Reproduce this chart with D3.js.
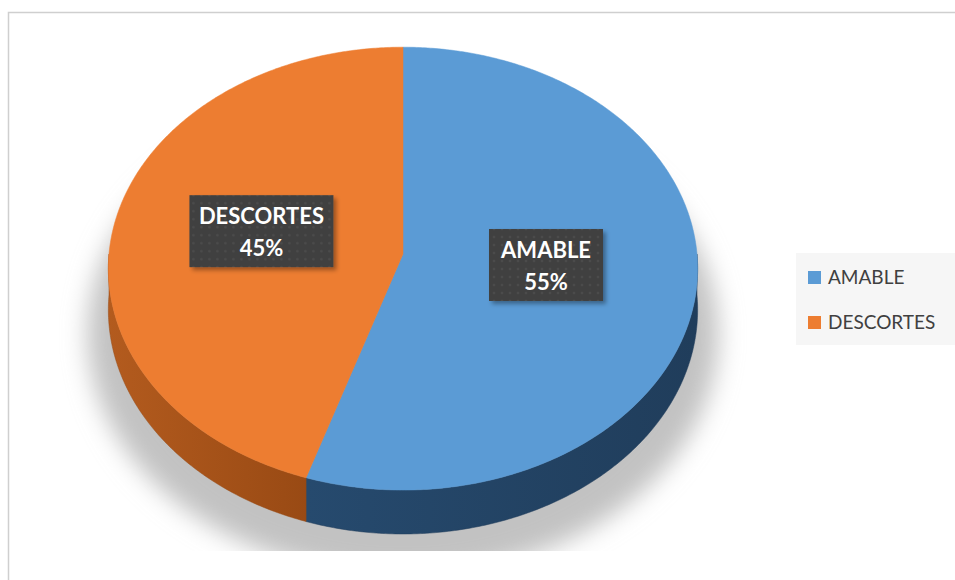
<!DOCTYPE html>
<html>
<head>
<meta charset="utf-8">
<script src="https://cdn.jsdelivr.net/npm/d3@7"></script>
<style>
  html, body { margin: 0; padding: 0; background: #fff; }
  svg { display: block; font-family: Lato, "Open Sans", sans-serif; }
</style>
</head>
<body>
<svg id="chart" width="955" height="580"></svg>
<script>
// data
var categories = ["AMABLE", "DESCORTES"];
var values = [55, 45];
var topColors = ["#5B9BD5", "#ED7D31"];
var sideColors = [["#264A6E", "#203D5B"], ["#B35B1E", "#994A14"]];

var svg = d3.select("#chart");
var W = 955, H = 580;

// 3D projection of the tilted disk
var cx = 403, cy = 254, s = 294, A = 220.5, D = 10, c = 0.661, thick = 41;
function proj(theta, r, h) {
  var X = Math.sin(theta) * r, Z = Math.cos(theta) * r;
  var p = D / (D + Z * c);
  return [cx + s * X * p, cy - A * Z * p + h * p];
}

var pie = d3.pie().sort(null).value(function(d) { return d; });
var arcs = pie(values);

var defs = svg.append("defs");
var blur = defs.append("filter").attr("id", "blur")
  .attr("x", "-20%").attr("y", "-20%").attr("width", "140%").attr("height", "140%");
blur.append("feGaussianBlur").attr("stdDeviation", 12);
defs.append("clipPath").attr("id", "shadowClip")
  .append("rect").attr("x", 0).attr("y", 0).attr("width", W).attr("height", 551);

var ds = defs.append("filter").attr("id", "boxShadow")
  .attr("x", "-10%").attr("y", "-10%").attr("width", "130%").attr("height", "140%");
ds.append("feDropShadow").attr("dx", 3).attr("dy", 3).attr("stdDeviation", 2)
  .attr("flood-color", "#000").attr("flood-opacity", 0.35);

var pat = defs.append("pattern").attr("id", "dots")
  .attr("patternUnits", "userSpaceOnUse").attr("width", 8).attr("height", 8);
pat.append("rect").attr("width", 8).attr("height", 8).attr("fill", "#404040");
pat.append("circle").attr("cx", 4).attr("cy", 4).attr("r", 1.3).attr("fill", "#4c4c4c");

sideColors.forEach(function(sc, i) {
  var g = defs.append("linearGradient").attr("id", "side" + i)
    .attr("x1", "0%").attr("x2", "100%").attr("y1", "0%").attr("y2", "0%");
  g.append("stop").attr("offset", "0%").attr("stop-color", sc[0]);
  g.append("stop").attr("offset", "100%").attr("stop-color", sc[1]);
});

// chart frame
svg.append("rect")
  .attr("x", 8.5).attr("y", 12.5).attr("width", W + 20).attr("height", H + 20)
  .attr("fill", "#fff").attr("stroke", "#cfcfcf").attr("stroke-width", 1.5);

var line = d3.line();
function sample(a0, a1, r, h) {
  var n = Math.max(2, Math.ceil(Math.abs(a1 - a0) / 0.01));
  return d3.range(n + 1).map(function(k) { return proj(a0 + (a1 - a0) * k / n, r, h); });
}

// soft shadow under the pie
var shadowPts = sample(0, 2 * Math.PI, 1.07, thick + 22);
svg.append("g").attr("clip-path", "url(#shadowClip)")
  .append("path")
  .attr("d", line(shadowPts) + "Z")
  .attr("fill", "#c2c2c2")
  .attr("filter", "url(#blur)");

// side walls (visible front half only)
var front0 = Math.PI / 2, front1 = 3 * Math.PI / 2;
arcs.forEach(function(a, i) {
  var a0 = Math.max(a.startAngle, front0), a1 = Math.min(a.endAngle, front1);
  if (a1 <= a0) return;
  var pts = sample(a0, a1, 1, 0).concat(sample(a1, a0, 1, thick));
  svg.append("path")
    .attr("d", line(pts) + "Z")
    .attr("fill", "url(#side" + i + ")")
    .attr("stroke", sideColors[i][1]).attr("stroke-width", 0.5);
});

// top faces
arcs.forEach(function(a, i) {
  var pts = [proj(0, 0, 0)].concat(sample(a.startAngle, a.endAngle, 1, 0));
  svg.append("path")
    .attr("d", line(pts) + "Z")
    .attr("fill", topColors[i])
    .attr("stroke", topColors[i]).attr("stroke-width", 0.5);
});

// data labels
var fmt = d3.format(".0%");
var total = d3.sum(values);
var boxW = [114, 144];
arcs.forEach(function(a, i) {
  var mid = (a.startAngle + a.endAngle) / 2;
  var p = proj(mid, 0.49, 0);
  var bx = p[0], by = p[1] - 6;
  var g = svg.append("g").attr("transform", "translate(" + bx + "," + by + ")");
  g.append("rect")
    .attr("x", -boxW[i] / 2).attr("y", -36).attr("width", boxW[i]).attr("height", 72)
    .attr("fill", "url(#dots)").attr("filter", "url(#boxShadow)");
  g.append("text").attr("text-anchor", "middle").attr("y", -7)
    .attr("fill", "#fff").attr("font-weight", 700).attr("font-size", 22)
    .text(categories[i]);
  g.append("text").attr("text-anchor", "middle").attr("y", 25)
    .attr("fill", "#fff").attr("font-weight", 700).attr("font-size", 22)
    .text(fmt(values[i] / total));
});

// legend
var legend = svg.append("g");
legend.append("rect")
  .attr("x", 796).attr("y", 253).attr("width", 170).attr("height", 92)
  .attr("fill", "#f6f6f6");
var legY = d3.scalePoint().domain(categories).range([277, 322]);
categories.forEach(function(cat, i) {
  legend.append("rect")
    .attr("x", 808).attr("y", legY(cat) - 6).attr("width", 13).attr("height", 13)
    .attr("fill", topColors[i]);
  legend.append("text")
    .attr("x", 828).attr("y", legY(cat) + 7)
    .attr("font-size", 19).attr("fill", "#404040")
    .text(cat);
});
</script>
</body>
</html>
